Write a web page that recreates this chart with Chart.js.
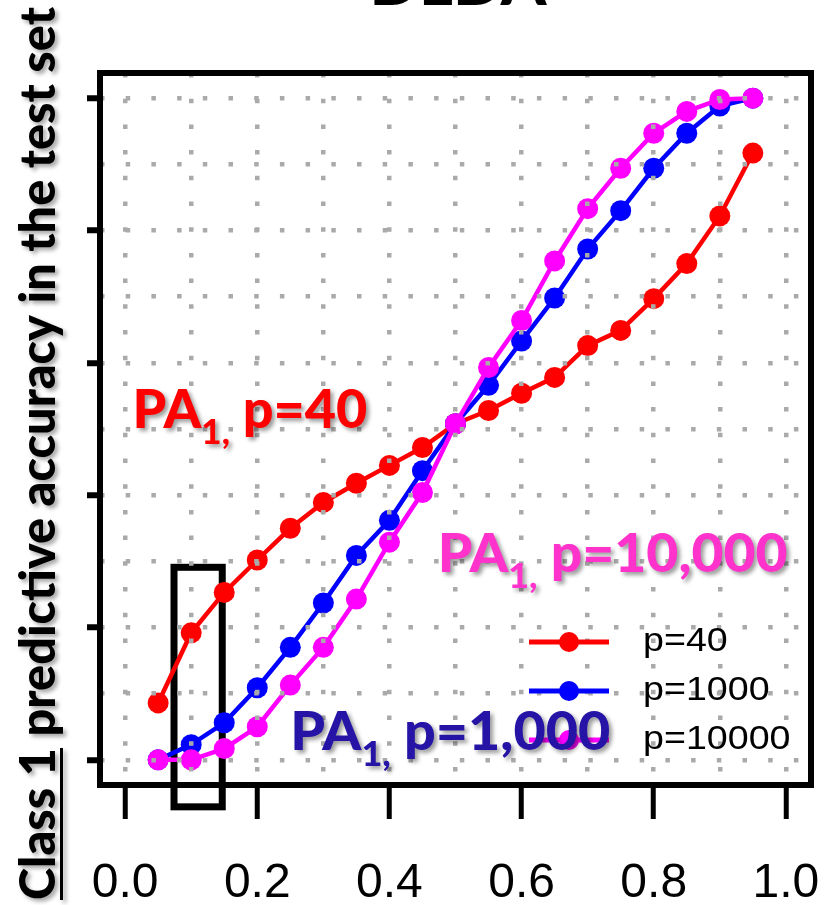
<!DOCTYPE html>
<html>
<head>
<meta charset="utf-8">
<title>DLDA</title>
<script src="https://cdn.jsdelivr.net/npm/chart.js@4.4.0/dist/chart.umd.min.js"></script>
<style>
  html, body { margin: 0; padding: 0; background: #fff; }
  #wrap { width: 837px; height: 905px; }
</style>
</head>
<body>
<div id="wrap"><canvas id="accChart" width="837" height="905"></canvas></div>
<script>
// values
const cutoffs = [0.05, 0.10, 0.15, 0.20, 0.25, 0.30, 0.35, 0.40, 0.45, 0.50,
                 0.55, 0.60, 0.65, 0.70, 0.75, 0.80, 0.85, 0.90, 0.95];
const pa40 = [0.086, 0.192, 0.253, 0.302, 0.350, 0.389, 0.418, 0.445, 0.472, 0.508,
              0.528, 0.554, 0.578, 0.626, 0.649, 0.697, 0.750, 0.822, 0.917];
const pa1000 = [0.000, 0.023, 0.056, 0.109, 0.170, 0.237, 0.309, 0.362, 0.437, 0.508,
                0.566, 0.633, 0.698, 0.772, 0.830, 0.894, 0.947, 0.988, 1.000];
const pa10000 = [0.000, 0.000, 0.017, 0.050, 0.113, 0.170, 0.243, 0.329, 0.404, 0.508,
                 0.593, 0.664, 0.754, 0.833, 0.894, 0.947, 0.980, 0.998, 1.000];
const seriesLabels = ["p=40", "p=1000", "p=10000"];
const xTickLabels = ["0.0", "0.2", "0.4", "0.6", "0.8", "1.0"];
const titleText = "DLDA";
const yTitle = "Class 1 predictive accuracy in the test set";
const yTitleUnderlined = "Class 1";

// callouts: text tail after "PA1," and anchor in data units
const callouts = [
  { tail: " p=40", x: 0.011, y: 0.502, width: 235, color: "#ff0000" },
  { tail: " p=10,000", x: 0.473, y: 0.284, width: 350, color: "#ff33cc" },
  { tail: " p=1,000", x: 0.250, y: 0.015, width: 320, color: "#2514a6" }
];
// black highlight box around cutoff 0.1
const highlightBox = { x0: 0.074, x1: 0.147, y0: -0.071, y1: 0.291 };

const colors = ["#ff0000", "#0000ff", "#ff00ff"];
const allSeries = [pa40, pa1000, pa10000];

function isMajor(ctx) {
  return ctx.tick && Math.round(ctx.tick.value * 10) % 2 === 0;
}

function drawPA(ctx, x, y, tail, width, color) {
  const big = "900 54px Lato", small = "900 35px Lato";
  ctx.font = big;
  const w1 = ctx.measureText("PA").width;
  const w3 = ctx.measureText(tail).width;
  ctx.font = small;
  const w2 = ctx.measureText("1,").width;
  const k = width / (w1 + w2 + w3);
  ctx.save();
  ctx.translate(x, y);
  ctx.scale(k, 1);
  ctx.fillStyle = color;
  ctx.shadowColor = "rgba(0,0,0,0.4)";
  ctx.shadowOffsetX = 3;
  ctx.shadowOffsetY = 3;
  ctx.shadowBlur = 4;
  ctx.textAlign = "left";
  ctx.textBaseline = "alphabetic";
  ctx.font = big;
  ctx.fillText("PA", 0, 0);
  ctx.font = small;
  ctx.fillText("1,", w1, 16);
  ctx.font = big;
  ctx.fillText(tail, w1 + w2, 0);
  ctx.restore();
}

const boxPlugin = {
  id: "highlightBox",
  beforeDatasetsDraw(chart) {
    const { ctx, scales: { x, y } } = chart;
    const l = x.getPixelForValue(highlightBox.x0), r = x.getPixelForValue(highlightBox.x1);
    const t = y.getPixelForValue(highlightBox.y1), b = y.getPixelForValue(highlightBox.y0);
    ctx.save();
    ctx.strokeStyle = "#000";
    ctx.lineWidth = 7;
    ctx.strokeRect(l, t, r - l, b - t);
    ctx.restore();
  }
};

const decorPlugin = {
  id: "decor",
  afterDraw(chart) {
    const { ctx, chartArea: a, scales: { x, y } } = chart;

    // plot frame
    ctx.save();
    ctx.strokeStyle = "#000";
    ctx.lineWidth = 6;
    ctx.strokeRect(a.left, a.top, a.right - a.left, a.bottom - a.top);
    ctx.restore();

    // title, mostly cut off at the top
    ctx.save();
    ctx.font = "900 64px Lato";
    const tw = ctx.measureText(titleText).width;
    ctx.translate(458, 5);
    ctx.scale(177 / tw, 1);
    ctx.fillStyle = "#000";
    ctx.textAlign = "center";
    ctx.textBaseline = "alphabetic";
    ctx.fillText(titleText, 0, 0);
    ctx.restore();

    // y title, rotated, with underline under "Class 1"
    ctx.save();
    ctx.font = "900 50px Lato";
    const yw = ctx.measureText(yTitle).width;
    const uw = ctx.measureText(yTitleUnderlined).width;
    const k = 893 / yw;
    ctx.translate(55, 900);
    ctx.rotate(-Math.PI / 2);
    ctx.scale(k, 1);
    ctx.fillStyle = "#000";
    ctx.shadowColor = "rgba(0,0,0,0.35)";
    ctx.shadowOffsetX = 3;
    ctx.shadowOffsetY = 3;
    ctx.shadowBlur = 4;
    ctx.textAlign = "left";
    ctx.textBaseline = "alphabetic";
    ctx.fillText(yTitle, 0, 0);
    ctx.fillRect(0, 5, uw, 3);
    ctx.restore();

    // legend
    const rows = [642, 691, 740];
    chart.data.datasets.forEach((ds, i) => {
      const ly = rows[i];
      ctx.save();
      ctx.strokeStyle = ds.borderColor;
      ctx.fillStyle = ds.borderColor;
      ctx.lineWidth = 5;
      ctx.beginPath();
      ctx.moveTo(529, ly);
      ctx.lineTo(609, ly);
      ctx.stroke();
      ctx.beginPath();
      ctx.arc(569, ly, 10, 0, Math.PI * 2);
      ctx.fill();
      ctx.font = "33px 'Liberation Sans', Arial";
      ctx.translate(643, ly);
      ctx.scale(1.14, 1);
      ctx.fillStyle = "#000";
      ctx.textAlign = "left";
      ctx.textBaseline = "middle";
      ctx.fillText(ds.label, 0, 0);
      ctx.restore();
    });

    // callouts
    callouts.forEach(c => {
      drawPA(ctx, x.getPixelForValue(c.x), y.getPixelForValue(c.y), c.tail, c.width, c.color);
    });
  }
};

const datasets = allSeries.map((vals, i) => ({
  label: seriesLabels[i],
  data: cutoffs.map((cx, j) => ({ x: cx, y: vals[j] })),
  borderColor: colors[i],
  backgroundColor: colors[i],
  pointBackgroundColor: colors[i],
  pointBorderWidth: 0,
  pointRadius: 10.5,
  borderWidth: 4.5,
  showLine: true,
  order: 3 - i
}));

const ctx = document.getElementById("accChart").getContext("2d");
new Chart(ctx, {
  type: "scatter",
  data: { datasets: datasets },
  plugins: [boxPlugin, decorPlugin],
  options: {
    responsive: false,
    animation: false,
    layout: { padding: { top: 73, right: 26, left: 0, bottom: 0 } },
    plugins: {
      legend: { display: false },
      tooltip: { enabled: false },
      title: { display: false }
    },
    scales: {
      x: {
        type: "linear",
        min: -0.038,
        max: 1.038,
        afterFit(scale) {
          scale.height = 120;
          scale.paddingLeft = 0;
          scale.paddingRight = 0;
        },
        ticks: {
          stepSize: 0.1,
          includeBounds: false,
          autoSkip: false,
          maxRotation: 0,
          padding: 36,
          color: "#000",
          font: { family: "'Liberation Sans', Arial", size: 48 },
          callback(value) {
            const s = Number(value).toFixed(1);
            return xTickLabels.includes(s) ? s : "";
          }
        },
        grid: {
          color: "#aaaaaa",
          lineWidth: 4.5,
          z: 1,
          tickLength: 34,
          tickWidth: 5,
          tickColor: c => isMajor(c) ? "#000" : "rgba(0,0,0,0)"
        },
        border: { display: false, dash: [4.5, 21.2] }
      },
      y: {
        type: "linear",
        min: -0.038,
        max: 1.038,
        afterFit(scale) {
          scale.width = 100;
          scale.paddingTop = 0;
          scale.paddingBottom = 0;
        },
        ticks: {
          stepSize: 0.1,
          includeBounds: false,
          autoSkip: false,
          callback() { return ""; }
        },
        grid: {
          color: "#aaaaaa",
          lineWidth: 4.5,
          z: 1,
          tickLength: 13,
          tickWidth: 6,
          tickColor: c => isMajor(c) ? "#000" : "rgba(0,0,0,0)"
        },
        border: { display: false, dash: [4.5, 21.2] }
      }
    }
  }
});
</script>
</body>
</html>
